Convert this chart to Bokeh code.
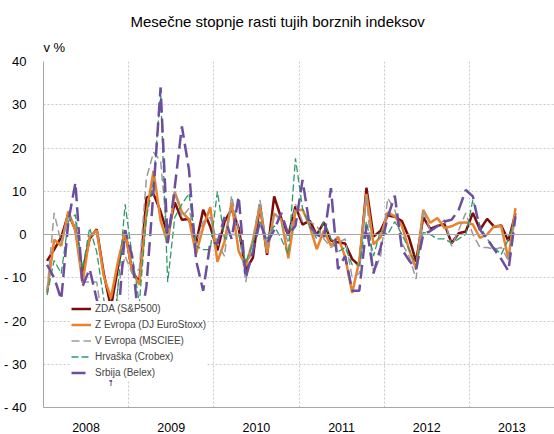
from bokeh.plotting import figure
from bokeh.models import FixedTicker, Span, Legend, LegendItem, Range1d, Title
from bokeh.embed import file_html
from bokeh.resources import INLINE

years = ["2008", "2009", "2010", "2011", "2012", "2013"]

sp500 = [-6.1, -3.5, -0.6, 4.8, 1.1, -8.6, -1.0, 1.2, -9.1, -16.9, -7.5, 0.8,
         -8.6, -11.0, 8.5, 9.4, 5.3, 0.0, 7.4, 3.4, 3.6, -2.0, 5.7, 1.8,
         -3.7, 2.9, 5.9, 1.5, -8.2, -5.4, 6.9, -4.7, 8.8, 3.7, -0.2, 6.5,
         2.3, 3.2, -0.1, 2.8, -1.4, -1.8, -2.1, -5.7, -7.2, 10.8, -0.5, 0.9,
         4.4, 4.1, 3.1, -0.7, -6.3, 4.0, 1.3, 2.0, 2.4, -2.0, 0.3, 0.7,
         5.0, 1.1, 3.6, 1.8, 2.1, -1.5, 4.9]

eurostoxx = [-13.5, -1.2, -2.6, 5.4, 0.8, -11.2, -0.5, 1.0, -9.7, -14.7, -6.2, 0.7,
             -8.6, -11.6, 4.8, 14.7, 3.2, -2.0, 9.8, 5.2, 3.5, -4.5, 1.7, 6.3,
             -6.3, -1.7, 7.4, -3.9, -7.3, -1.4, 6.6, -4.3, 4.8, 3.5, -5.5, 5.4,
             5.8, 2.0, -3.4, 0.9, -2.6, -0.5, -5.2, -13.5, -6.0, 9.4, -2.3, -0.6,
             5.1, 4.2, 2.0, -3.4, -8.0, 5.7, 2.7, 3.8, 1.5, 1.9, 2.7, 2.8,
             2.3, -0.8, 0.0, 1.9, 1.9, -5.7, 6.1]

msciee = [-13, 5, -2, 4, 3, -11, -11, -11, -22, -35, -12, -5,
          -9, -8, 13, 19, 17, -1, 10, 4, 6, -2, 3, 4,
          -2, -5, 9, 1, -11, -1, 8, -3, 5, 3, -2, 7,
          3, 3, 2, -1, -3, -2, -1, -10, -9, 9, -9, -5,
          8.4, 5.7, -2, -5, -10.3, 5.7, 0.8, 1.9, 3.4, -2.7, 1, 5,
          0, -3, -3, -3.4, -3, -6, 4]

crobex = [-14, -6, -9, 3, 4.6, -8, 1.5, -4, -15, -27, -12, 7,
          -5, -16, 4, 12, 33, -11, 4, 7, 9.5, -2.7, -3.5, -3.5,
          10, -1, 0, 0, -6.5, -2, 3, -1, 2, -1, -4.5, 17.6,
          6, 2, -1, 3, -1, -4, -3, -7, -7, 3, -5, 1,
          0, 3, 0, -3.4, -7, 0.5, 0, -1, -1, -2, -1, 0,
          8, 1.9, -1, -3, -4.6, -1.1, 3.8]

belex = [-7, -10, -15, 3, 12, -12, -8, -15, -20, -34, -20, 1,
         -5, -22, -12, 10, 34, -2, 11, 25, 15, -6, -13, -2,
         -2, 4, -1, 8.8, -10, -4, 3, -2, 1, 5, 0, 2,
         12.6, 2, 0, -1, 10.7, -8, -5, -13, -13, 2, -9, -3,
         4, 9, -3.4, -6, -8, 0, 0.8, 1.9, 3, 3.4, 5.7, 10.3,
         8.8, 1.1, -1, -3.4, -5.7, -8.4, 4.2]

labels = ["ZDA (S&P500)", "Z Evropa (DJ EuroStoxx)", "V Evropa (MSCIEE)",
          "Hrvaška (Crobex)", "Srbija (Belex)"]

y_ticks = [-40, -30, -20, -10, 0, 10, 20, 30, 40]

n = len(sp500)
xs = [i + 0.5 for i in range(n)]

p = figure(width=554, height=434, x_range=Range1d(0, 72), y_range=Range1d(-40, 40),
           output_backend="svg", toolbar_location=None, title=None,
           min_border_left=43, min_border_right=0, min_border_top=61, min_border_bottom=24)
p.outline_line_color = None
p.background_fill_color = "white"

# x axis
p.xaxis.ticker = FixedTicker(ticks=[12 * k + 6 for k in range(len(years))])
p.xaxis.major_label_overrides = {12 * k + 6: years[k] for k in range(len(years))}
p.xaxis.major_tick_line_color = None
p.xaxis.minor_tick_line_color = None
p.xaxis.axis_line_color = "#A6A6A6"
p.xaxis.major_label_text_font = "Liberation Sans"
p.xaxis.major_label_text_font_size = "12.5px"
p.xaxis.major_label_text_color = "#000000"
p.xaxis.major_label_standoff = 9
p.xgrid.ticker = FixedTicker(ticks=[12 * k for k in range(1, len(years))])
p.xgrid.grid_line_color = "#C8C8C8"
p.xgrid.grid_line_dash = "2 2"

# y axis
p.yaxis.ticker = FixedTicker(ticks=y_ticks)
p.yaxis.major_label_overrides = {t: (str(t) if t >= 0 else "- " + str(-t)) for t in y_ticks}
p.yaxis.major_tick_line_color = None
p.yaxis.minor_tick_line_color = None
p.yaxis.axis_line_color = "#A6A6A6"
p.yaxis.major_label_text_font = "Liberation Sans"
p.yaxis.major_label_text_font_size = "13px"
p.yaxis.major_label_text_color = "#000000"
p.yaxis.major_label_standoff = 11
p.ygrid.grid_line_color = "#C8C8C8"
p.ygrid.grid_line_dash = "2 2"

p.add_layout(Span(location=0, dimension="width", line_color="#A6A6A6", line_width=1))

r1 = p.line(xs, sp500, line_color="#7F0A0A", line_width=2.5)
r2 = p.line(xs, eurostoxx, line_color="#E8822E", line_width=2.5)
r3 = p.line(xs, msciee, line_color="#9A9A9A", line_width=1.5, line_dash="8 4")
r4 = p.line(xs, crobex, line_color="#2E9A6A", line_width=1.3, line_dash="7 3")
r5 = p.line(xs, belex, line_color="#6B4E9E", line_width=2.5, line_dash="14 6")

legend = Legend(items=[LegendItem(label=l, renderers=[r]) for l, r in zip(labels, [r1, r2, r3, r4, r5])],
                location=(28, 27), background_fill_color="white", background_fill_alpha=1.0,
                border_line_color=None, label_text_font="Liberation Sans",
                label_text_font_size="10px", glyph_width=20, glyph_height=15, label_height=15,
                spacing=1, padding=2, label_standoff=4, margin=0)
p.add_layout(legend)

t_unit = Title(text="v %", align="left", offset=0, standoff=14, text_font="Liberation Sans",
               text_font_size="13px", text_font_style="normal", text_color="#000000")
p.add_layout(t_unit, "above")
t_main = Title(text="Mesečne stopnje rasti tujih borznih indeksov", align="left", offset=87,
               standoff=2, text_font="Liberation Sans", text_font_size="15px",
               text_font_style="normal", text_color="#000000")
p.add_layout(t_main, "above")

open("out.html", "w").write(file_html(p, INLINE))
